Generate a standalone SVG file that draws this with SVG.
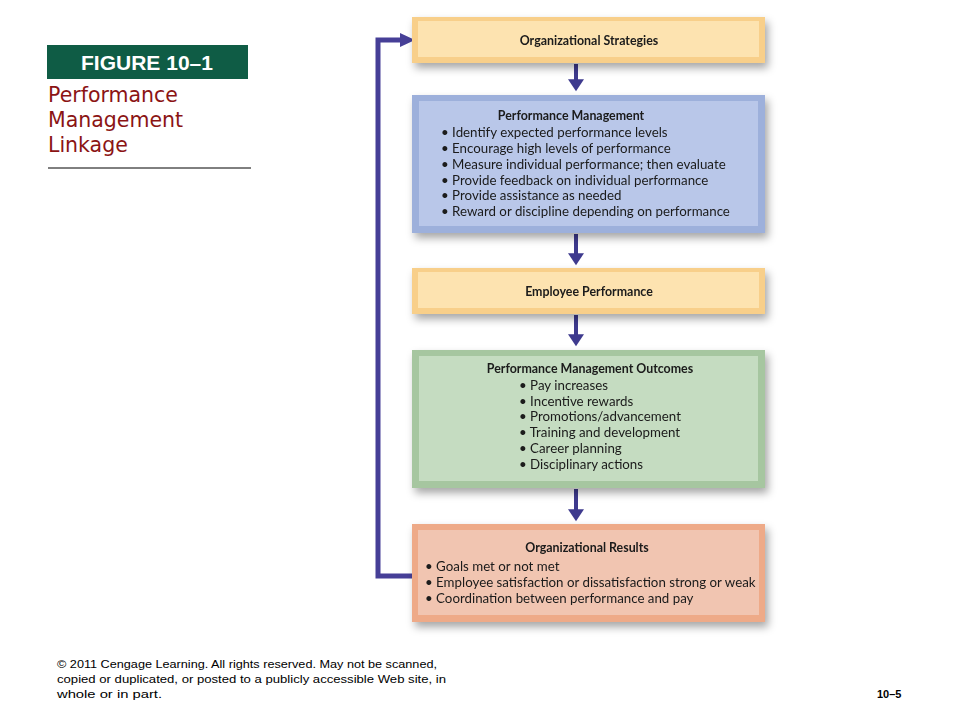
<svg xmlns="http://www.w3.org/2000/svg" width="960" height="720" viewBox="0 0 960 720">
<defs>
<filter id="sh" x="-10%" y="-20%" width="125%" height="150%">
<feDropShadow dx="3" dy="5" stdDeviation="4" flood-color="#000" flood-opacity="0.35"/>
</filter>
<marker id="ah" markerWidth="4" markerHeight="4" refX="2.2" refY="2" orient="auto" markerUnits="strokeWidth">
<path d="M0,0 L3,2 L0,4 z" fill="#3e3a8e"/>
</marker>
<style>
.t{font-family:Lato,"Open Sans",sans-serif;font-size:13.3px;fill:#1a1a1a}
.h{font-family:Lato,"Open Sans",sans-serif;font-size:12.4px;font-weight:bold;fill:#1a1a1a}
.f{font-family:"Liberation Sans",Arial,sans-serif;font-size:11px;fill:#000}
.c{fill:none;stroke:#3e3a8e;stroke-width:4}
</style>
</defs>
<rect width="960" height="720" fill="#fff"/>

<g id="figure-label">
<rect x="47" y="45" width="201" height="34" fill="#0f5c45"/>
<text x="147" y="70" text-anchor="middle" font-family="Liberation Sans,Arial,sans-serif" font-size="21" font-weight="bold" fill="#fff">FIGURE 10–1</text>
<text font-family="DejaVu Sans,Verdana,sans-serif" font-size="20.5" fill="#8b1414">
<tspan x="48" y="102">Performance</tspan>
<tspan x="48" y="127">Management</tspan>
<tspan x="48" y="152">Linkage</tspan>
</text>
<line x1="48" y1="168" x2="251" y2="168" stroke="#000" stroke-width="1"/>
</g>

<g id="connectors">
<line class="c" x1="576" y1="64" x2="576" y2="88" marker-end="url(#ah)"/>
<line class="c" x1="576" y1="234" x2="576" y2="262" marker-end="url(#ah)"/>
<line class="c" x1="576" y1="315" x2="576" y2="343" marker-end="url(#ah)"/>
<line class="c" x1="576" y1="489" x2="576" y2="518" marker-end="url(#ah)"/>
<polyline fill="none" stroke="#463f97" stroke-width="5" points="413,576 378,576 378,40 402,40"/>
<path d="M400,33 L415,40 L400,47 z" fill="#463f97"/>
</g>

<g id="org-strategies" filter="url(#sh)">
<rect x="412" y="17" width="353" height="46" fill="#f8cf8a"/>
<rect x="418" y="21" width="341" height="36" fill="#fde3b0"/>
<text class="h" x="589" y="45" text-anchor="middle">Organizational Strategies</text>
</g>

<g id="performance-management" filter="url(#sh)">
<rect x="412" y="95" width="353" height="138" fill="#9db0db"/>
<rect x="419" y="101" width="339" height="125" fill="#b9c7e9"/>
<text class="h" x="571" y="120" text-anchor="middle">Performance Management</text>
<text class="t">
<tspan x="441" y="137">• Identify expected performance levels</tspan>
<tspan x="441" y="153">• Encourage high levels of performance</tspan>
<tspan x="441" y="169">• Measure individual performance; then evaluate</tspan>
<tspan x="441" y="185">• Provide feedback on individual performance</tspan>
<tspan x="441" y="200">• Provide assistance as needed</tspan>
<tspan x="441" y="216">• Reward or discipline depending on performance</tspan>
</text>
</g>

<g id="employee-performance" filter="url(#sh)">
<rect x="412" y="268" width="353" height="46" fill="#f8cf8a"/>
<rect x="418" y="272" width="341" height="36" fill="#fde3b0"/>
<text class="h" x="589" y="296" text-anchor="middle">Employee Performance</text>
</g>

<g id="pm-outcomes" filter="url(#sh)">
<rect x="412" y="350" width="353" height="138" fill="#a6c6a0"/>
<rect x="419" y="356" width="339" height="125" fill="#c5dcc1"/>
<text class="h" x="590" y="373" text-anchor="middle">Performance Management Outcomes</text>
<text class="t">
<tspan x="519" y="390">• Pay increases</tspan>
<tspan x="519" y="406">• Incentive rewards</tspan>
<tspan x="519" y="421">• Promotions/advancement</tspan>
<tspan x="519" y="437">• Training and development</tspan>
<tspan x="519" y="453">• Career planning</tspan>
<tspan x="519" y="469">• Disciplinary actions</tspan>
</text>
</g>

<g id="org-results" filter="url(#sh)">
<rect x="412" y="524" width="353" height="98" fill="#eeaa88"/>
<rect x="418" y="530" width="341" height="85" fill="#f1c5b1"/>
<text class="h" x="587" y="552" text-anchor="middle">Organizational Results</text>
<text class="t">
<tspan x="425" y="571">• Goals met or not met</tspan>
<tspan x="425" y="587">• Employee satisfaction or dissatisfaction strong or weak</tspan>
<tspan x="425" y="603">• Coordination between performance and pay</tspan>
</text>
</g>

<g id="footer">
<text class="f" x="57" y="668" textLength="380" lengthAdjust="spacingAndGlyphs">© 2011 Cengage Learning. All rights reserved. May not be scanned,</text>
<text class="f" x="57" y="683" textLength="389" lengthAdjust="spacingAndGlyphs">copied or duplicated, or posted to a publicly accessible Web  site, in</text>
<text class="f" x="57" y="698" textLength="105" lengthAdjust="spacingAndGlyphs">whole or in part.</text>
<text class="f" x="877" y="698" font-weight="bold">10–5</text>
</g>
</svg>
